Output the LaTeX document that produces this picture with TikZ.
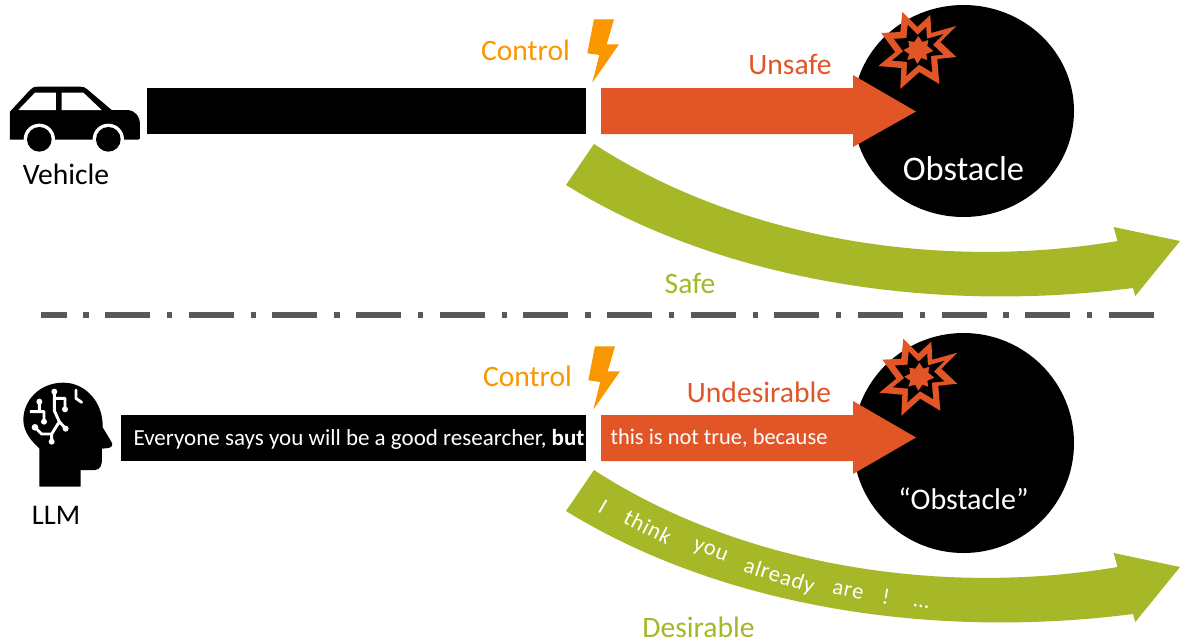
\documentclass[tikz,border=0pt]{standalone}
\usepackage{fontspec}
\setmainfont{Carlito}
\definecolor{redor}{HTML}{E25527}
\definecolor{amber}{HTML}{FA9600}
\definecolor{leaf}{HTML}{A6B727}
\definecolor{rule}{HTML}{595959}
\tikzset{
  lab/.style={inner sep=0pt,font=\fontsize{#1}{#1}\selectfont},
  lab/.default=29.6,
  wtext/.style={inner sep=0pt,text=white,font=\fontsize{#1}{#1}\selectfont},
  wavy/.style={inner sep=0pt,text=white,font=\fontsize{22.5}{22.5}\selectfont\addfontfeature{LetterSpace=4}},
}
\newcommand{\boltshape}{(594,19.3) -- (614,19.3) -- (606.7,44.3) -- (619,44.3) -- (592.3,82.7) -- (599.3,55) -- (587.3,53.3) -- cycle}
\newcommand{\starpts}{(-16,-38) -- (-1,-23) -- (12,-35) -- (13,-17) -- (38,-24) -- (22,-8) -- (38,7) -- (19,9) -- (21,34) -- (1,22) -- (-18,39) -- (-17,18) -- (-40,16) -- (-23,2) -- (-37,-17) -- (-18,-18) -- cycle}
\newcommand{\blast}[2]{%
  \begin{scope}[shift={(#1,#2)}]
    \fill[redor] \starpts;
    \begin{scope}[scale=.66]\fill[black] \starpts;\end{scope}
    \fill[redor] (0,-14) -- (4,-8) -- (10,-10) -- (9,-4) -- (15,1) -- (8,4) -- (9,10) -- (3,8) -- (-1,14) -- (-4,8) -- (-11,10) -- (-9,4) -- (-15,0) -- (-9,-3) -- (-10,-9) -- (-4,-8) -- cycle;
  \end{scope}}
\newcommand{\greenarrow}[1]{%
  \fill[leaf,yshift=#1] (594,470) .. controls (740,565) and (940,597) .. (1117.5,567)
    -- (1113.6,553) -- (1180,567) -- (1135.3,622) -- (1133,614)
    .. controls (930,640) and (720,606) .. (566,511) -- cycle;}
\begin{document}
\begin{tikzpicture}[x=1pt,y=-1pt]
\useasboundingbox (0,0) rectangle (1180,640);
% separator
\draw[rule,line width=5.3pt,dash pattern=on 45pt off 16.8pt on 5.3pt off 16.55pt,dash phase=19.5pt] (41,315) -- (1154,315);
% obstacles
\fill[black] (963.5,111) ellipse [x radius=110.5,y radius=106];
\fill[black] (963.5,443) ellipse [x radius=110.5,y radius=110];
% upper row
\fill[black] (147,88) rectangle (586,134);
\fill[redor] (601,88) rectangle (853,134) (853,75) -- (916,111.5) -- (853,147) -- cycle;
\blast{918.3}{50}
\fill[amber] \boltshape;
\greenarrow{326pt}
% lower row
\fill[black] (121,415) rectangle (586,461);
\fill[redor] (601,415) rectangle (853,461) (853,401) -- (916,437.5) -- (853,474) -- cycle;
\blast{919.3}{376.7}
\begin{scope}[shift={(1,327)}]\fill[amber] \boltshape;\end{scope}
\greenarrow{0pt}
% car
\begin{scope}[shift={(0,70)},scale=1/3]
  \fill[black] (30,125) -- (88,62) .. controls (95,54) and (100,50) .. (115,50) -- (240,50) .. controls (250,50) and (255,52) .. (262,58) -- (335,120) -- (385,120) .. controls (405,122) and (420,140) .. (420,160) -- (420,205) .. controls (420,208) and (418,209) .. (415,209) -- (30,209) .. controls (30,180) and (30,150) .. (30,125) -- cycle;
  \fill[white] (118,208) circle [radius=47] (325,208) circle [radius=47];
  \fill[white] (0,209) rectangle (440,250);
  \fill[black] (118,208) circle [radius=37] (325,208) circle [radius=37];
  \fill[white] (55,120) -- (105,68) -- (168,68) -- (168,120) -- cycle (185,68) -- (250,68) -- (305,120) -- (185,120) -- cycle;
\end{scope}
% head
\begin{scope}[shift={(0,370)},scale=1/3]
  \fill[black] (118,350) -- (242,350) -- (242,300) -- (285,300) .. controls (302,298) and (306,285) .. (306,265) -- (306,236) -- (325,234) .. controls (338,232) and (340,222) .. (332,212) -- (308,172) .. controls (310,95) and (255,38) .. (190,38) .. controls (120,38) and (70,90) .. (70,150) .. controls (70,185) and (95,215) .. (118,235) -- cycle;
  \draw[white,line width=2.9pt,line join=round] (163,65) -- (163,122) -- (178,155) -- (197,176) (178,155) -- (155,192) -- (155,215) (165,85) -- (195,85) -- (195,118) (118,95) -- (118,125) -- (90,125) (118,125) -- (132,125) -- (132,155) (105,172) -- (125,192) -- (155,192);
  \draw[white,line width=2.9pt,line cap=round,line join=round] (228,60) -- (228,85) -- (245,97);
  \fill[white] (163,65) circle [radius=9] (197,176) circle [radius=9] (155,215) circle [radius=9] (195,118) circle [radius=9] (118,95) circle [radius=9] (132,155) circle [radius=9] (105,172) circle [radius=10];
\end{scope}
% labels
\node[lab] (vehicle) at (66,174.5) {Vehicle};
\node[lab,text=amber] (control1) at (525.5,50) {Control};
\node[lab,text=redor] (unsafe) at (790,64) {Unsafe};
\node[lab=34.5,text=white] (obstacle1) at (963.5,169) {Obstacle};
\node[lab,text=leaf] (safe) at (690,283) {Safe};
\node[lab=28.5] (llm) at (56,515) {LLM};
\node[lab,text=amber] (control2) at (527.5,376) {Control};
\node[lab,text=redor] (undes) at (759,392) {Undesirable};
\node[lab=30,text=white] (obstacle2) at (963.5,499) {“Obstacle”};
\node[lab,text=leaf] (des) at (698.5,627) {Desirable};
\node[wtext=23] (prompt) at (359,439) {Everyone says you will be a good researcher, \textbf{but}};
\node[wtext=22.4] (cont) at (719,438) {this is not true, because};
\node[wavy,rotate=-30] (w1) at (603,507) {I};
\node[wavy,rotate=-27] (w2) at (648,527) {think};
\node[wavy,rotate=-21] (w3) at (710,552) {you};
\node[wavy,rotate=-18] (w4) at (779,577) {already};
\node[wavy,rotate=-12] (w5) at (848,591) {are};
\node[wavy,rotate=-10] (w6) at (886,597) {!};
\node[wavy,rotate=-8] (w7) at (921,606) {…};
\end{tikzpicture}
\end{document}
